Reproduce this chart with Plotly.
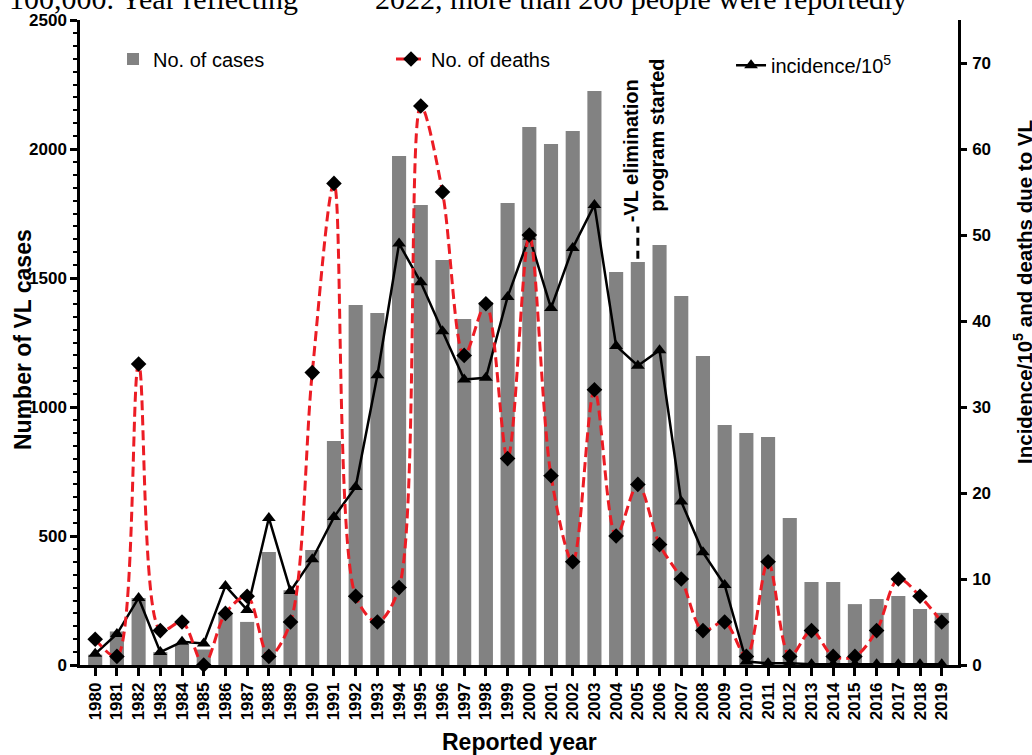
import plotly.graph_objects as go

years = list(range(1980, 2020))
cases = [40, 130, 260, 50, 80, 60, 200, 167, 438, 290,
         446, 868, 1395, 1364, 1973, 1783, 1570, 1341, 1407, 1791,
         2085, 2019, 2070, 2225, 1523, 1562, 1628, 1430, 1198, 930,
         899, 884, 570, 322, 322, 236, 256, 267, 217, 202]
deaths = [3, 1, 35, 4, 5, 0, 6, 8, 1, 5,
          34, 56, 8, 5, 9, 65, 55, 36, 42, 24,
          50, 22, 12, 32, 15, 21, 14, 10, 4, 5,
          1, 12, 1, 4, 1, 1, 4, 10, 8, 5]
incidence = [1.3, 3.6, 7.8, 1.5, 2.7, 2.5, 9.2, 6.4, 17.1, 8.6,
             12.3, 17.2, 20.7, 33.7, 49.0, 44.5, 38.8, 33.2, 33.4, 42.8,
             49.8, 41.5, 48.5, 53.5, 37.1, 34.8, 36.6, 19.0, 13.1, 9.3,
             0.4, 0.2, 0.2, 0.1, 0.1, 0.1, 0.1, 0.1, 0.1, 0.1]
tick_labels = [str(y) for y in years]
left_ticks = [0, 500, 1000, 1500, 2000, 2500]
right_ticks = [0, 10, 20, 30, 40, 50, 60, 70]

SANS = "Liberation Sans, Arial, sans-serif"
SERIF = "Liberation Serif, Times New Roman, serif"
bold = dict(family=SANS, size=17, color="black", weight="bold")

fig = go.Figure()
fig.add_trace(go.Bar(
    x=years, y=cases, name="No. of cases", width=0.65, showlegend=True,
    marker=dict(color="#828282", line=dict(width=0)),
    legend="legend", yaxis="y"))
fig.add_trace(go.Scatter(
    x=years, y=incidence, name="incidence/10<sup>5</sup>", mode="lines+markers", showlegend=True,
    line=dict(color="black", width=2.5),
    marker=dict(symbol="triangle-up", size=12, color="black"),
    legend="legend3", yaxis="y2", cliponaxis=False))
fig.add_trace(go.Scatter(
    x=years, y=deaths, name="No. of deaths", mode="lines+markers", showlegend=True,
    line=dict(color="rgb(236,28,36)", width=3, dash="10px,5px", shape="spline", smoothing=0.9),
    marker=dict(symbol="diamond", size=12, color="black"),
    legend="legend2", yaxis="y2", cliponaxis=False))

axis_common = dict(showline=True, linecolor="black", linewidth=2.5, showgrid=False,
                   zeroline=False, ticks="outside", tickcolor="black", tickwidth=2.5)
legend_font = dict(family=SANS, size=20, color="black")

fig.update_layout(
    width=1032, height=755,
    margin=dict(l=80, r=74, t=20, b=90),
    plot_bgcolor="white", paper_bgcolor="white",
    showlegend=True,
    font=dict(family=SANS, color="black"),
    xaxis=dict(range=[1979.3, 2019.75], tickmode="array", tickvals=years, ticktext=tick_labels,
               tickangle=-90, ticklen=8, tickfont=bold, **axis_common),
    yaxis=dict(range=[0, 2500], tickmode="array", tickvals=left_ticks, ticklen=7,
               tickfont=bold, ticklabelstandoff=0,
               minor=dict(dtick=50, ticks="outside", ticklen=4, tickwidth=2, tickcolor="black"),
               **axis_common),
    yaxis2=dict(range=[0, 75], overlaying="y", side="right", tickmode="array",
                tickvals=right_ticks, ticklen=6, tickfont=bold, ticklabelstandoff=2, **axis_common),
    legend=dict(x=0.0376, y=0.9395, xanchor="left", yanchor="middle", bgcolor="rgba(0,0,0,0)",
                font=legend_font, visible=True),
    legend2=dict(x=0.3542, y=0.9395, xanchor="left", yanchor="middle", bgcolor="rgba(0,0,0,0)",
                 font=legend_font),
    legend3=dict(x=0.7415, y=0.930, xanchor="left", yanchor="middle", bgcolor="rgba(0,0,0,0)",
                 font=legend_font),
)

ann = [
    dict(text="Number of VL cases", x=-0.0649, y=0.5039, textangle=-90,
         font=dict(family=SANS, size=23, weight="bold")),
    dict(text="Incidence/10<sup>5</sup> and deaths due to VL", x=1.0740, y=0.5783, textangle=-90,
         font=dict(family=SANS, size=20.5, weight="bold")),
    dict(text="Reported year", x=0.5011, y=-0.1194,
         font=dict(family=SANS, size=23, weight="bold")),
    dict(text="100,000. Year reflecting", x=0.2506, y=1.034, xanchor="right",
         font=dict(family=SERIF, size=30)),
    dict(text="2022, more than 200 people were reportedly", x=0.3337, y=1.034, xanchor="left",
         font=dict(family=SERIF, size=30)),
]
for a in ann:
    base = dict(xref="paper", yref="paper", showarrow=False, font=dict(color="black"))
    a.setdefault("xanchor", "center")
    a.setdefault("yanchor", "middle")
    base.update(a)
    fig.add_annotation(**base)

# VL elimination programme marker
fig.add_shape(type="line", xref="x", yref="y", x0=2005, x1=2005, y0=1575, y1=1700,
              line=dict(color="black", width=3, dash="8px,5px"))
fig.add_annotation(text="-VL elimination", xref="x", yref="paper", x=2005, xshift=-6,
                   y=0.7977, xanchor="center", yanchor="middle", textangle=-90, showarrow=False,
                   font=dict(family=SANS, size=20, weight="bold", color="black"))
fig.add_annotation(text="program started", xref="x", yref="paper", x=2005, xshift=19,
                   y=0.8217, xanchor="center", yanchor="middle", textangle=-90, showarrow=False,
                   font=dict(family=SANS, size=20, weight="bold", color="black"))

fig.write_html("out.html")
